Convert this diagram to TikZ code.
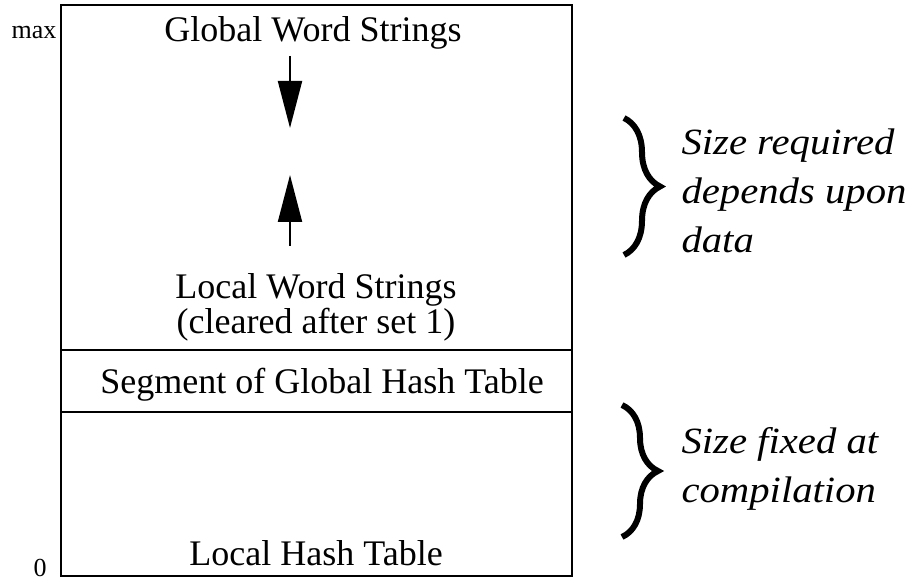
\documentclass[tikz,border=0pt]{standalone}
\usepackage{fontspec}
\setmainfont{Liberation Serif}
\newfontfamily\notefont[FakeStretch=1.1]{Liberation Serif}
\usetikzlibrary{arrows.meta,decorations.pathreplacing}

\tikzset{
  region/.style={font=\fontsize{36pt}{42pt}\selectfont},
  addr/.style={font=\fontsize{26pt}{30pt}\selectfont},
  note/.style={font=\notefont\fontsize{37pt}{49pt}\selectfont\itshape, align=left, anchor=west},
  growarrow/.style={line width=2pt, -{Triangle[length=47pt,width=24pt]}},
  sizebrace/.style={line width=6pt, decorate, decoration={brace, amplitude=36pt}}
}

\begin{document}
\begin{tikzpicture}[x=1pt,y=1pt]
  \useasboundingbox (0,0) rectangle (915,581);

  % Memory block
  \draw[line width=1.2pt] (61,5) rectangle (572,576);
  \draw[line width=1.2pt] (61,231) -- (572,231);
  \draw[line width=1.2pt] (61,169) -- (572,169);

  % Addresses
  \node[addr] (top) at (34,548) {max};
  \node[addr] (bottom) at (40,13) {0};

  % Regions
  \node[region] (global) at (313,548) {Global Word Strings};
  \node[region] (local) at (316,291) {Local Word Strings};
  \node[region] (cleared) at (316,256) {(cleared after set 1)};
  \node[region] (segment) at (322,196) {Segment of Global Hash Table};
  \node[region] (hash) at (316,28) {Local Hash Table};

  % Growth arrows
  \coordinate (downstart) at (290,525);
  \coordinate (downend) at (290,453);
  \coordinate (upstart) at (290,335);
  \coordinate (upend) at (290,406);
  \draw[growarrow] (downstart) -- (downend);
  \draw[growarrow] (upstart) -- (upend);

  % Size notes
  \coordinate (b1top) at (624,463);
  \coordinate (b1bot) at (624,326);
  \draw[sizebrace] (b1top) -- (b1bot);
  \node[note] (varnote) at (678,390) {Size required\\depends upon\\data};

  \coordinate (b2top) at (622,176);
  \coordinate (b2bot) at (622,44);
  \draw[sizebrace] (b2top) -- (b2bot);
  \node[note] (fixnote) at (678,112) {Size fixed at\\compilation};
\end{tikzpicture}
\end{document}
